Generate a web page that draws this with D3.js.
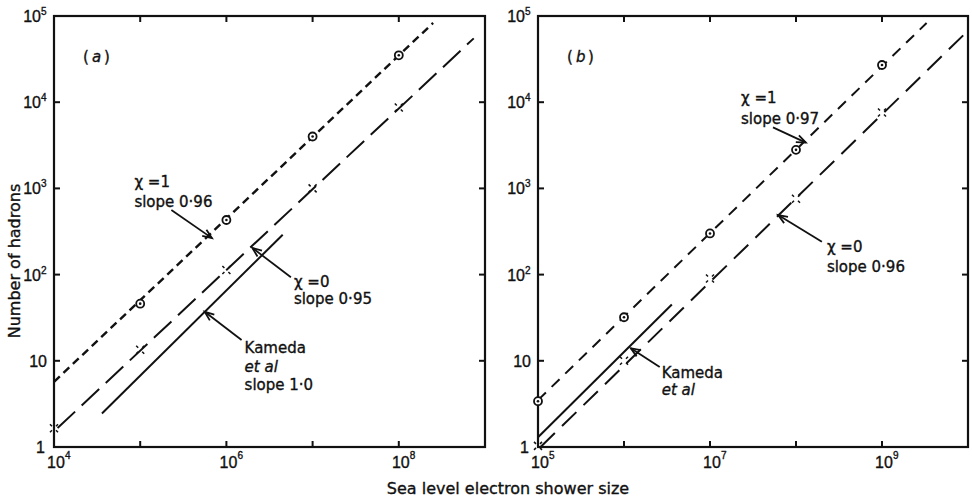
<!DOCTYPE html>
<html>
<head>
<meta charset="utf-8">
<script src="https://cdn.jsdelivr.net/npm/d3@7"></script>
<style>
  body { margin: 0; background: #fff; }
  text { font-family: "DejaVu Sans", sans-serif; fill: #111; stroke: #111; stroke-width: 0.35px; }
</style>
</head>
<body>
<svg id="viz_area" width="972" height="500"></svg>
<script>
// ---- data ----
var yTicks = [1, 10, 1e2, 1e3, 1e4, 1e5];
var xTicksA = [1e4, 1e5, 1e6, 1e7, 1e8, 1e9];
var xLabelsA = [4, 6, 8];
var xTicksB = [1e5, 1e6, 1e7, 1e8, 1e9, 1e10];
var xLabelsB = [5, 7, 9];

// measured points (shower size, hadrons)
var chi1A = [[1e5, 46], [1e6, 430], [1e7, 4000], [1e8, 35000]];
var chi0A = [[1e4, 1.65], [1e5, 13.4], [1e6, 113], [1e7, 1000], [1e8, 8700]];
var chi1B = [[1e5, 3.4], [1e6, 32], [1e7, 300], [1e8, 2800], [1e9, 27000]];
var chi0B = [[1e5, 1.03], [1e6, 10], [1e7, 90], [1e8, 760], [1e9, 7600]];

// fitted lines (end points)
var fitChi1A = [[1e4, 5.7], [2.5e8, 83000]];
var fitChi0A = [[1.1e4, 1.66], [7.4e8, 55000]];
var kamedaA = [[3.6e4, 2.45], [4.5e6, 290]];
var fitChi1B = [[1e5, 3.5], [3.3e9, 83000]];
var fitChi0B = [[1.07e5, 1.0], [9.3e9, 63000]];
var kamedaB = [[1e5, 1.3], [3.6e6, 45]];

// annotations: arrow tail, arrow head, text lines
var notesA = [
  {tail: [2.3e5, 560], head: [6.8e5, 265], dx: -37, dy: [-23, -3], lines: ["χ =1", "slope 0·96"], italic: []},
  {tail: [5.6e6, 93], head: [2.0e6, 204], dx: 3, dy: [10, 27], lines: ["χ =0", "slope 0·95"], italic: []},
  {tail: [1.5e6, 17.4], head: [5.6e5, 37], dx: 3, dy: [13, 32, 50], lines: ["Kameda", "et al", "slope 1·0"], italic: [1]}
];
var notesB = [
  {tail: [5.4e7, 5100], head: [1.3e8, 3400], dx: -32, dy: [-24, -3], lines: ["χ =1", "slope 0·97"], italic: []},
  {tail: [2.0e8, 240], head: [6.2e7, 490], dx: 5, dy: [10, 30], lines: ["χ =0", "slope 0·96"], italic: []},
  {tail: [2.6e6, 8.5], head: [1.2e6, 14], dx: 2, dy: [11, 28], lines: ["Kameda", "et al"], italic: [1]}
];

var svg = d3.select("#viz_area");
var top0 = 16, bottom0 = 447;

function drawPanel(cfg) {
  var x = d3.scaleLog().domain(cfg.xDomain).range([cfg.left, cfg.right]);
  var y = d3.scaleLog().domain([1, 1e5]).range([bottom0, top0]);
  var g = svg.append("g");

  // frame
  g.append("rect")
    .attr("x", cfg.left).attr("y", top0)
    .attr("width", cfg.right - cfg.left).attr("height", bottom0 - top0)
    .attr("fill", "none").attr("stroke", "#111").attr("stroke-width", 2.2);

  // inward ticks, all four sides
  var tl = 6;
  cfg.xTicks.forEach(function(t) {
    if (t <= cfg.xDomain[0] || t >= cfg.xDomain[1]) return;
    g.append("line").attr("x1", x(t)).attr("x2", x(t)).attr("y1", bottom0).attr("y2", bottom0 - tl)
      .attr("stroke", "#111").attr("stroke-width", 2);
    g.append("line").attr("x1", x(t)).attr("x2", x(t)).attr("y1", top0).attr("y2", top0 + tl)
      .attr("stroke", "#111").attr("stroke-width", 2);
  });
  yTicks.forEach(function(t) {
    if (t <= 1 || t >= 1e5) return;
    g.append("line").attr("x1", cfg.left).attr("x2", cfg.left + tl).attr("y1", y(t)).attr("y2", y(t))
      .attr("stroke", "#111").attr("stroke-width", 2);
    g.append("line").attr("x1", cfg.right).attr("x2", cfg.right - tl).attr("y1", y(t)).attr("y2", y(t))
      .attr("stroke", "#111").attr("stroke-width", 2);
  });

  // y tick labels
  yTicks.forEach(function(t) {
    var e = Math.round(Math.log10(t));
    var tx = g.append("text")
      .attr("x", cfg.left - 7).attr("y", y(t) + 6)
      .attr("text-anchor", "end")
      .style("font-family", "Liberation Sans, sans-serif")
      .style("font-size", "16px");
    if (e === 0) { tx.attr("x", cfg.left - 9).text("1"); }
    else if (e === 1) { tx.text("10"); }
    else {
      tx.attr("x", cfg.left - 13).text("10");
      g.append("text").attr("x", cfg.left - 13).attr("y", y(t) - 1)
        .style("font-family", "Liberation Sans, sans-serif").style("font-size", "10px").text(e);
    }
  });

  // x tick labels
  cfg.xLabels.forEach(function(e) {
    var px = x(Math.pow(10, e));
    g.append("text").attr("x", px + 2).attr("y", 468).attr("text-anchor", "middle")
      .style("font-family", "Liberation Sans, sans-serif").style("font-size", "16px").text("10");
    g.append("text").attr("x", px + 11).attr("y", 459)
      .style("font-family", "Liberation Sans, sans-serif").style("font-size", "10px").text(e);
  });

  // panel label
  g.append("text").attr("x", cfg.left + 29).attr("y", top0 + 46)
    .style("font-size", "15px").text("(");
  g.append("text").attr("x", cfg.left + 38).attr("y", top0 + 46)
    .style("font-size", "15px").style("font-style", "italic").text(cfg.tag);
  g.append("text").attr("x", cfg.left + 50).attr("y", top0 + 46)
    .style("font-size", "15px").text(")");

  var line = d3.line().x(function(d) { return x(d[0]); }).y(function(d) { return y(d[1]); });

  g.append("path").datum(cfg.fit1).attr("d", line)
    .attr("fill", "none").attr("stroke", "#111").attr("stroke-width", cfg.w1)
    .attr("stroke-dasharray", cfg.dash1);
  g.append("path").datum(cfg.fit0).attr("d", line)
    .attr("fill", "none").attr("stroke", "#111").attr("stroke-width", 2)
    .attr("stroke-dasharray", cfg.dash0);
  g.append("path").datum(cfg.kameda).attr("d", line)
    .attr("fill", "none").attr("stroke", "#111").attr("stroke-width", 2);

  // circles (chi = 1)
  g.selectAll(".c1").data(cfg.pts1).enter().append("circle")
    .attr("cx", function(d) { return x(d[0]); }).attr("cy", function(d) { return y(d[1]); })
    .attr("r", 4).attr("fill", "#fff").attr("stroke", "#111").attr("stroke-width", 1.8);
  g.selectAll(".c1d").data(cfg.pts1).enter().append("circle")
    .attr("cx", function(d) { return x(d[0]); }).attr("cy", function(d) { return y(d[1]); })
    .attr("r", 1.3).attr("fill", "#111");

  // dotted crosses (chi = 0)
  g.selectAll(".c0").data(cfg.pts0).enter().append("path")
    .attr("transform", function(d) { return "translate(" + x(d[0]) + "," + y(d[1]) + ")"; })
    .attr("d", "M-4,-4L-2,-2M4,-4L2,-2M-4,4L-2,2M4,4L2,2")
    .attr("fill", "none").attr("stroke", "#111").attr("stroke-width", 1.5);

  // annotations
  cfg.notes.forEach(function(n) {
    var tx = x(n.tail[0]), ty = y(n.tail[1]);
    var hx = x(n.head[0]), hy = y(n.head[1]);
    g.append("line").attr("x1", tx).attr("y1", ty).attr("x2", hx).attr("y2", hy)
      .attr("stroke", "#111").attr("stroke-width", 1.8);
    var ang = Math.atan2(ty - hy, tx - hx), a = 0.38, L = 10;
    g.append("path")
      .attr("d", "M" + (hx + L * Math.cos(ang + a)) + "," + (hy + L * Math.sin(ang + a)) +
        "L" + hx + "," + hy +
        "L" + (hx + L * Math.cos(ang - a)) + "," + (hy + L * Math.sin(ang - a)))
      .attr("fill", "none").attr("stroke", "#111").attr("stroke-width", 1.8);
    n.lines.forEach(function(s, i) {
      g.append("text").attr("x", tx + n.dx).attr("y", ty + n.dy[i])
        .style("font-size", "15px")
        .style("font-style", n.italic.indexOf(i) >= 0 ? "italic" : "normal")
        .text(s);
    });
  });
}

drawPanel({
  left: 54, right: 485, xDomain: [1e4, 1e9], xTicks: xTicksA, xLabels: xLabelsA, tag: "a",
  pts1: chi1A, pts0: chi0A, fit1: fitChi1A, fit0: fitChi0A, kameda: kamedaA,
  dash1: "8,5", dash0: "24,9", w1: 2.4, notes: notesA
});
drawPanel({
  left: 538, right: 968, xDomain: [1e5, 1e10], xTicks: xTicksB, xLabels: xLabelsB, tag: "b",
  pts1: chi1B, pts0: chi0B, fit1: fitChi1B, fit0: fitChi0B, kameda: kamedaB,
  dash1: "11,8", dash0: "20,10", w1: 2, notes: notesB
});

// axis titles
svg.append("text")
  .attr("transform", "translate(20,261) rotate(-90)")
  .attr("text-anchor", "middle")
  .style("font-size", "16px")
  .text("Number of hadrons");
svg.append("text")
  .attr("x", 508).attr("y", 494)
  .attr("text-anchor", "middle")
  .style("font-size", "16px")
  .text("Sea level electron shower size");
</script>
</body>
</html>
